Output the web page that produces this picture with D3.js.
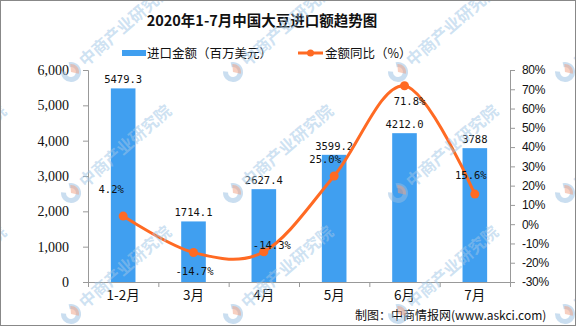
<!DOCTYPE html>
<html>
<head>
<meta charset="utf-8">
<script src="https://cdn.jsdelivr.net/npm/d3@7"></script>
<style>
  html, body { margin: 0; padding: 0; background: #fff; }
  svg { display: block; }
</style>
</head>
<body>
<svg id="chart" width="576" height="326"></svg>
<script>
// Soybean imports, Jan–Jul 2020
const months = ["1-2月", "3月", "4月", "5月", "6月", "7月"];
const importValue = [5479.3, 1714.1, 2627.4, 3599.2, 4212.0, 3788];   // million USD
const valueLabels = ["5479.3", "1714.1", "2627.4", "3599.2", "4212.0", "3788"];
const yoyGrowth = [4.2, -14.7, -14.3, 25.0, 71.8, 15.6];               // %
const leftTicks = [0, 1000, 2000, 3000, 4000, 5000, 6000];
const rightTicks = [-30, -20, -10, 0, 10, 20, 30, 40, 50, 60, 70, 80];

// label nudges for the growth-rate annotations (dx, dy from the point)
const yoyLabelOffset = [[-12, -27], [1, 18], [8, -7], [-9, -17], [5, 15], [-4, -19]];

const W = 576, H = 326;
const plot = { left: 88, right: 510, top: 70, bottom: 282 };
const barColor = "#409ff0";
const lineColor = "#ff6a23";
const axisColor = "#999";

const svg = d3.select("#chart");

const x = d3.scaleBand().domain(months).range([plot.left, plot.right]).paddingInner(0).paddingOuter(0);
const yL = d3.scaleLinear().domain([0, 6000]).range([plot.bottom, plot.top]);
const yR = d3.scaleLinear().domain([-30, 80]).range([plot.bottom, plot.top]);
const barW = x.bandwidth() * 0.35;

// title
svg.append("text")
  .attr("x", 262).attr("y", 26)
  .attr("text-anchor", "middle")
  .attr("font-family", "'Noto Sans CJK SC', sans-serif")
  .attr("font-weight", "bold")
  .attr("font-size", 14.5)
  .attr("fill", "#111")
  .text("2020年1-7月中国大豆进口额趋势图");

// legend
const legend = svg.append("g").attr("font-family", "'Noto Sans CJK SC', sans-serif").attr("font-size", 12.5).attr("fill", "#111");
legend.append("rect").attr("x", 122).attr("y", 50).attr("width", 24).attr("height", 6).attr("fill", barColor);
legend.append("text").attr("x", 147).attr("y", 57.5).text("进口金额（百万美元）");
legend.append("line").attr("x1", 298).attr("x2", 323).attr("y1", 53).attr("y2", 53)
  .attr("stroke", lineColor).attr("stroke-width", 3);
legend.append("circle").attr("cx", 310.5).attr("cy", 53).attr("r", 3.5).attr("fill", lineColor);
legend.append("text").attr("x", 325).attr("y", 57.5).text("金额同比（%）");

// bars
svg.append("g").selectAll("rect").data(importValue).join("rect")
  .attr("x", (d, i) => x(months[i]) + x.bandwidth() / 2 - barW / 2)
  .attr("y", d => yL(d))
  .attr("width", barW)
  .attr("height", d => yL(0) - yL(d))
  .attr("fill", barColor);

// axes
const leftAxis = svg.append("g").attr("transform", `translate(${plot.left},0)`)
  .call(d3.axisLeft(yL).tickValues(leftTicks).tickFormat(d3.format(",")).tickSize(5).tickPadding(14));
const rightAxis = svg.append("g").attr("transform", `translate(${plot.right},0)`)
  .call(d3.axisRight(yR).tickValues(rightTicks).tickFormat(d => d + "%").tickSize(5).tickPadding(7));
const edges = d3.scaleLinear().domain([0, months.length]).range([plot.left, plot.right]);
const bottomTicks = svg.append("g").attr("transform", `translate(0,${plot.bottom})`)
  .call(d3.axisBottom(edges).tickValues(d3.range(months.length + 1)).tickFormat("").tickSize(5));
const bottomLabels = svg.append("g").attr("transform", `translate(0,${plot.bottom})`)
  .call(d3.axisBottom(x).tickSize(0).tickPadding(10));

[leftAxis, rightAxis, bottomTicks, bottomLabels].forEach(g => {
  g.selectAll("path.domain").attr("stroke", axisColor);
  g.selectAll(".tick line").attr("stroke", axisColor);
  g.selectAll("text").attr("fill", "#111");
});
bottomLabels.select("path.domain").remove();
leftAxis.selectAll("text").attr("font-family", "'Liberation Serif', serif").attr("font-size", 14);
rightAxis.selectAll("text").attr("font-family", "'Liberation Sans', sans-serif").attr("font-size", 12).attr("letter-spacing", -0.3);
bottomLabels.selectAll("text").attr("font-family", "'Noto Sans CJK SC', sans-serif").attr("font-size", 13.5).attr("dy", "0.6em");

// bar value labels
svg.append("g").selectAll("text").data(importValue).join("text")
  .attr("x", (d, i) => x(months[i]) + x.bandwidth() / 2)
  .attr("y", d => yL(d) - 5)
  .attr("text-anchor", "middle")
  .attr("font-family", "'DejaVu Sans Mono', monospace")
  .attr("font-size", 10.5)
  .attr("fill", "#111")
  .text((d, i) => valueLabels[i]);

// growth-rate line
const px = i => x(months[i]) + x.bandwidth() / 2;
const line = d3.line().x((d, i) => px(i)).y(d => yR(d)).curve(d3.curveCardinal.tension(0));
svg.append("path").datum(yoyGrowth)
  .attr("d", line)
  .attr("fill", "none")
  .attr("stroke", lineColor)
  .attr("stroke-width", 3)
  .attr("stroke-linecap", "round");
svg.append("g").selectAll("circle").data(yoyGrowth).join("circle")
  .attr("cx", (d, i) => px(i))
  .attr("cy", d => yR(d))
  .attr("r", 4.5)
  .attr("fill", lineColor);

svg.append("g").selectAll("text").data(yoyGrowth).join("text")
  .attr("x", (d, i) => px(i) + yoyLabelOffset[i][0])
  .attr("y", (d, i) => yR(d) + yoyLabelOffset[i][1] + 4)
  .attr("text-anchor", "middle")
  .attr("font-family", "'DejaVu Sans Mono', monospace")
  .attr("font-size", 10.5)
  .attr("fill", "#111")
  .text(d => d.toFixed(1) + "%");

// source note
svg.append("text")
  .attr("x", 355).attr("y", 320)
  .attr("font-family", "'Noto Sans CJK SC', sans-serif")
  .attr("font-size", 12)
  .attr("fill", "#111")
  .text("制图：中商情报网(www.askci.com)");

// watermark tiles
const wm = svg.append("g").attr("pointer-events", "none");
const colsX = [-94, 71, 233, 398, 565];
const rowsY = [72, 193, 314];
rowsY.forEach(cy => colsX.forEach(cx => {
  const g = wm.append("g").attr("transform", `translate(${cx},${cy}) rotate(-41)`);
  const arc = d3.arc().innerRadius(5).outerRadius(10);
  g.append("path").attr("d", arc({ startAngle: Math.PI * 0.15, endAngle: Math.PI * 1.75 }))
    .attr("fill", "rgba(150,190,225,0.5)");
  g.append("path").attr("d", d3.arc().innerRadius(0).outerRadius(8)({ startAngle: Math.PI * 0.2, endAngle: Math.PI * 0.8 }))
    .attr("fill", "rgba(240,160,130,0.5)");
  g.append("text").attr("x", 14).attr("y", 6)
    .attr("font-family", "'Noto Sans CJK SC', sans-serif")
    .attr("font-weight", "bold")
    .attr("font-size", 16.5)
    .attr("fill", "rgba(160,198,230,0.52)")
    .text("中商产业研究院");
}));

// frame
svg.append("rect").attr("x", 0.5).attr("y", 0.5).attr("width", W - 1).attr("height", H - 1)
  .attr("fill", "none").attr("stroke", "#888");
</script>
</body>
</html>
